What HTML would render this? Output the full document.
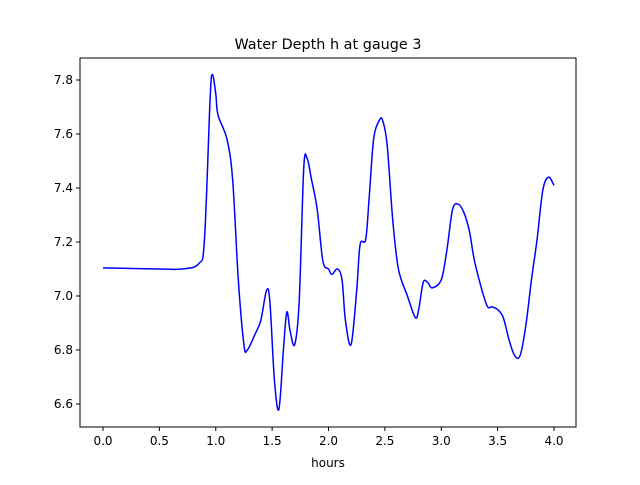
<!DOCTYPE html>
<html><head><meta charset="utf-8"><style>
body{margin:0;background:#fff;font-family:"Liberation Sans","DejaVu Sans",sans-serif}
svg text{font-family:"DejaVu Sans","Liberation Sans",sans-serif;font-size:12px;fill:#000}
</style></head><body>
<svg id="c" width="640" height="480"></svg>
<script>
const xs=[0,0.5,0.7,0.85,0.9,0.95,0.97,1.0,1.02,1.1,1.15,1.2,1.25,1.28,1.35,1.4,1.45,1.48,1.52,1.56,1.6,1.63,1.66,1.7,1.74,1.78,1.81,1.85,1.9,1.95,2.0,2.03,2.08,2.12,2.15,2.2,2.25,2.28,2.33,2.36,2.4,2.45,2.48,2.52,2.57,2.62,2.7,2.77,2.8,2.84,2.88,2.92,3.0,3.05,3.1,3.15,3.2,3.25,3.3,3.4,3.45,3.5,3.55,3.6,3.65,3.7,3.75,3.8,3.85,3.9,3.95,4.0];
const ys=[7.104,7.10,7.10,7.12,7.21,7.73,7.82,7.75,7.67,7.58,7.43,7.06,6.82,6.80,6.86,6.91,7.02,6.98,6.69,6.58,6.80,6.94,6.87,6.82,6.98,7.47,7.51,7.43,7.32,7.13,7.10,7.08,7.10,7.06,6.91,6.82,7.02,7.19,7.21,7.36,7.58,7.65,7.65,7.56,7.28,7.10,7.00,6.92,6.95,7.05,7.05,7.03,7.06,7.17,7.32,7.34,7.31,7.24,7.12,6.97,6.96,6.95,6.92,6.84,6.78,6.78,6.89,7.06,7.21,7.39,7.44,7.41];
const xTicks=[0,0.5,1,1.5,2,2.5,3,3.5,4];
const yTicks=[6.6,6.8,7.0,7.2,7.4,7.6,7.8];
const X=v=>103+v*112.75, Y=v=>296-(v-7)*270;
const s=document.getElementById('c');const NS='http://www.w3.org/2000/svg';
function el(t,a,txt){const e=document.createElementNS(NS,t);for(const k in a)e.setAttribute(k,a[k]);if(txt!=null)e.textContent=txt;s.appendChild(e);return e;}
let f=el('rect',{x:80,y:58,width:496,height:369,fill:'none',stroke:'#000','stroke-width':1});


xTicks.forEach(t=>{const x=X(t);
const l=el('line',{x1:x,x2:x,y1:427,y2:431,stroke:'#000'});


const tx=el('text',{x:x,y:445,'text-anchor':'middle'},t.toFixed(1));

});
yTicks.forEach(t=>{const y=Y(t);
const l=el('line',{x1:76,x2:80,y1:y,y2:y,stroke:'#000'});


const tx=el('text',{x:73,y:y+4,'text-anchor':'end'},t.toFixed(1));

});
const P=xs.map((x,i)=>[X(x),Y(ys[i])]);
let d='M'+P[0][0]+','+P[0][1];
for(let i=0;i<P.length-1;i++){const p0=P[Math.max(0,i-1)],p1=P[i],p2=P[i+1],p3=P[Math.min(P.length-1,i+2)];
d+=' C'+(p1[0]+(p2[0]-p0[0])/6)+','+(p1[1]+(p2[1]-p0[1])/6)+' '+(p2[0]-(p3[0]-p1[0])/6)+','+(p2[1]-(p3[1]-p1[1])/6)+' '+p2[0]+','+p2[1];}
const ln=el('path',{d:d,fill:'none',stroke:'#0000ff','stroke-width':1.5});


const ti=el('text',{x:328,y:49,'text-anchor':'middle',style:'font-size:14.4px'},'Water Depth h at gauge 3');


const xl=el('text',{x:328,y:467,'text-anchor':'middle'},'hours');


</script>
</body></html>
